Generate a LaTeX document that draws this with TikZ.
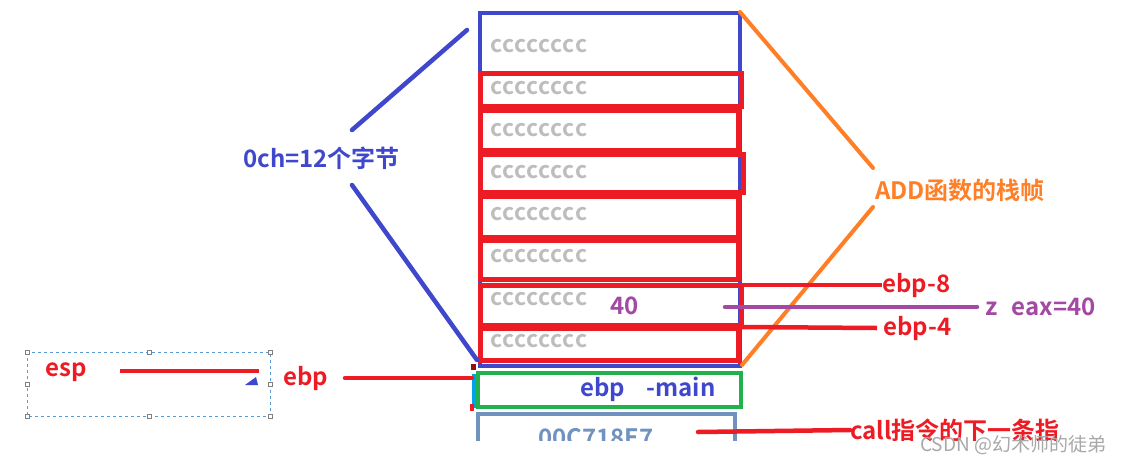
\documentclass[tikz,border=0pt]{standalone}
\usepackage{fontspec}
\setmainfont{Noto Sans CJK SC}[BoldFont={* Bold}]
\definecolor{myred}{HTML}{ED1C24}
\definecolor{myblue}{HTML}{3F48CC}
\definecolor{mygreen}{HTML}{22B14C}
\definecolor{myorange}{HTML}{FF7F27}
\definecolor{mypurple}{HTML}{A349A4}
\definecolor{mysteel}{HTML}{7092BE}
\definecolor{mygray}{HTML}{BDBDBD}
\definecolor{mydash}{HTML}{5B9BD5}
\definecolor{mycyan}{HTML}{00A2E8}
\definecolor{wmgray}{HTML}{A8A8A8}
\begin{document}
\begin{tikzpicture}[x=1pt,y=-1pt,
  redbox/.style={draw=myred,line width=5pt},
  cell/.style={anchor=west,text=mygray,font=\bfseries\fontsize{23}{23}\selectfont\addfontfeature{LetterSpace=3},inner sep=0pt},
  lbl/.style={anchor=west,inner sep=0pt,font=\bfseries\fontsize{24}{24}\selectfont},
  redline/.style={draw=myred,line width=4.5pt,line cap=round},
  blueline/.style={draw=myblue,line width=4.5pt,line cap=round},
  orangeline/.style={draw=myorange,line width=4pt,line cap=round},
  handle/.style={draw=gray,fill=white,line width=0.8pt,minimum size=4pt,inner sep=0pt}]
\useasboundingbox (0,0) rectangle (1126,461);
\fill[white] (0,0) rectangle (1126,461);

% blue frame
\draw[myblue,line width=4pt] (480,13) rectangle (740,366);
\coordinate (ftl) at (740,12);
\coordinate (fbr) at (742,365);

% red cells
\draw[redbox] (480,73) rectangle (741,106);
\draw[redbox] (480,110) rectangle (738,150);
\draw[redbox] (480,154) rectangle (743,192);
\draw[redbox] (480,196) rectangle (738,237);
\draw[redbox] (480,240) rectangle (738,279);
\draw[redbox] (480,285) rectangle (741,325);
\draw[redbox] (480,328) rectangle (738,360);

% cell texts
\foreach \y [count=\i] in {46,88,130,172,214,256,299,341}
  \node[cell] (c\i) at (490,\y) {cccccccc};
\node[lbl,text=mypurple] (forty) at (610,306) {40};

% green box
\draw[mygreen,line width=4pt] (478,373) rectangle (741,407);
\node[lbl,text=myblue] (ebpmain) at (580,389) {ebp\hspace{0.9em}-main};

% bottom strip (clipped as in the screenshot)
\begin{scope}
\clip (460,405) rectangle (1100,440);
\draw[mysteel,line width=4pt] (478,414) rectangle (735,480);
\node[text=mysteel,font=\bfseries\fontsize{24}{24}\selectfont,inner sep=0pt] (ret) at (596,438) {00C718E7};
\node[lbl,text=myred] (call) at (850,430) {call指令的下一条指};
\end{scope}
\coordinate (calls) at (698,432);
\draw[redline] (calls) -- (call.west);

% small artifacts
\fill[mycyan] (472,374) rectangle (476,408);
\fill[myred!60!black] (471,364) rectangle (476,370);
\fill[myred] (470,404) rectangle (474,411);

% left labels
\node[lbl,text=myblue] (och) at (243,158) {0ch=12个字节};
\coordinate (bt) at (467,30);
\coordinate (bb) at (477,360);
\draw[blueline] (bt) -- (352,130);
\draw[blueline] (352,185) -- (bb);

% right labels
\node[lbl,text=myorange] (add) at (875,190) {ADD函数的栈帧};
\draw[orangeline] (ftl) -- (873,168);
\draw[orangeline] (873,207) -- (fbr);

\node[lbl,text=myred] (e8) at (882,285) {ebp-8};
\node[lbl,text=myred] (e4) at (883,328) {ebp-4};
\node[lbl,text=mypurple] (z) at (985,307) {z\hspace{0.6em}eax=40};
\coordinate (e8s) at (741,285);
\coordinate (e4s) at (741,327);
\coordinate (zs) at (725,307);
\draw[redline,line cap=butt] (e8s) -- (e8.west);
\draw[redline,line cap=butt] (e4s) -- ([xshift=-6pt]e4.west);
\draw[draw=mypurple,line width=4.5pt,line cap=round] (zs) -- ([xshift=-8pt]z.west);

\node[anchor=west,inner sep=0pt,text=wmgray,font=\fontsize{19}{19}\selectfont] (wm) at (920,445) {CSDN @幻术师的徒弟};

% selection box with esp
\draw[mydash,dashed,line width=1pt] (27,352) rectangle (270,416);
\foreach \p in {(27,352),(149,352),(270,352),(27,384),(270,384),(27,416),(149,416),(270,416)}
  \node[handle] at \p {};
\node[lbl,text=myred] (esp) at (45,372) {esp};
\coordinate (esps) at (120,371);
\coordinate (espe) at (259,371);
\draw[redline,line cap=butt] (esps) -- (espe);
\fill[myblue] (245,385) -- (256,377) -- (258,385) -- cycle;

\node[lbl,text=myred] (ebp) at (283,378) {ebp};
\coordinate (ebpe) at (472,378);
\draw[redline] (345,378) -- (ebpe);
\end{tikzpicture}
\end{document}
